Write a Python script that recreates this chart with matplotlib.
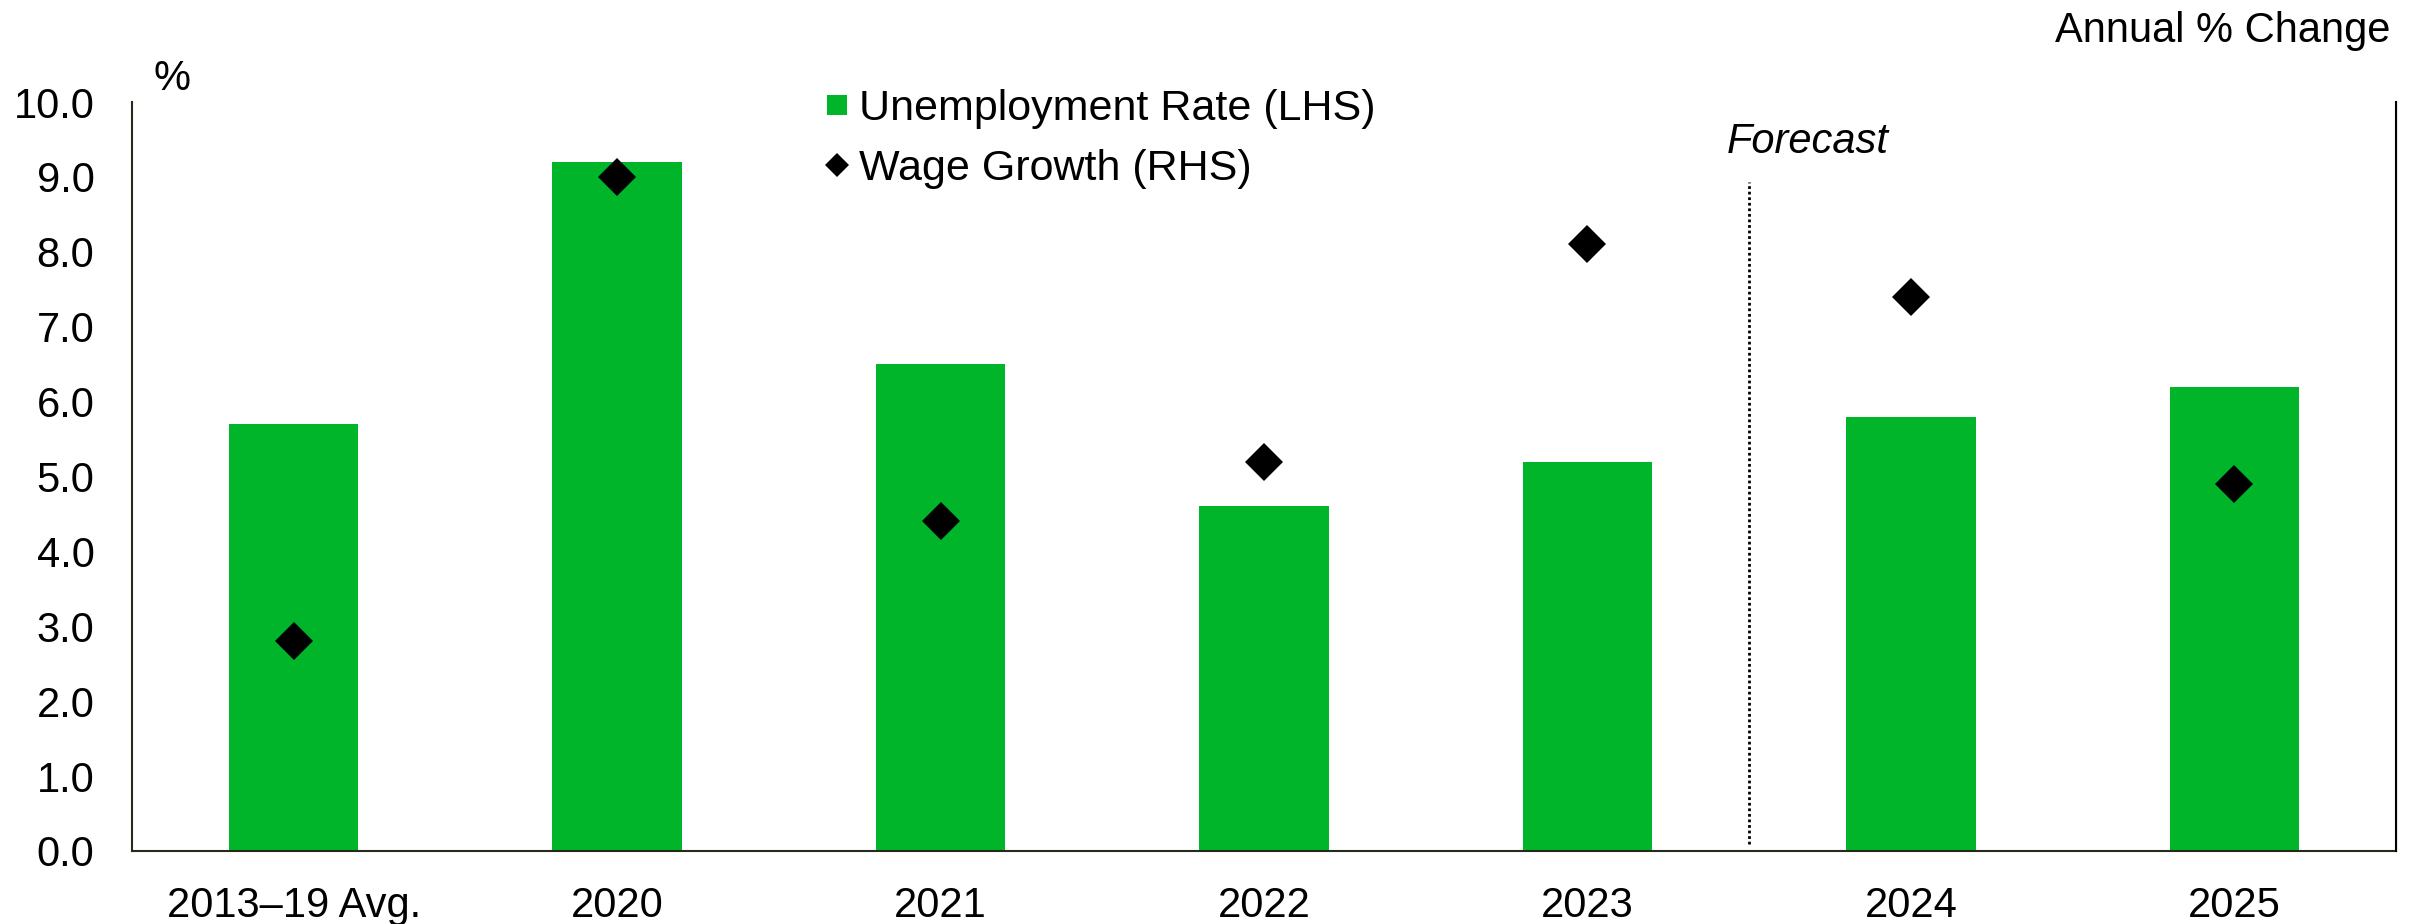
import matplotlib
matplotlib.use("Agg")
import matplotlib.pyplot as plt
from matplotlib.lines import Line2D

plt.rcParams['font.family'] = ['Liberation Sans', 'DejaVu Sans']

categories = ["2013–19 Avg.", "2020", "2021", "2022", "2023", "2024", "2025"]
unemployment = [5.7, 9.2, 6.5, 4.6, 5.2, 5.8, 6.2]
wage_growth = [2.8, 9.0, 4.4, 5.2, 8.1, 7.4, 4.9]
y_ticks = [0, 1, 2, 3, 4, 5, 6, 7, 8, 9, 10]

green = '#00B52A'
spine_col = '#252b1c'

fig = plt.figure(figsize=(24.2, 9.24), dpi=100)
ax = fig.add_axes([132 / 2420, 73 / 924, 2264 / 2420, 749 / 924])
ax2 = ax.twinx()

x = list(range(len(categories)))
ax.bar(x, unemployment, width=0.4, color=green, zorder=2)
ax2.plot(x, wage_growth, linestyle='none', marker='D', markersize=19,
         color='black', markeredgewidth=0, zorder=3)

ax.set_xlim(-0.5, len(categories) - 0.5)
ax.set_ylim(0, 10)
ax2.set_ylim(0, 10)
ax.set_yticks(y_ticks)
ax.set_yticklabels([f"{v:.1f}" for v in y_ticks])
ax.set_xticks(x)
ax.set_xticklabels(categories)
ax.tick_params(axis='y', length=0, pad=27, labelsize=30)
ax.tick_params(axis='x', length=0, pad=25, labelsize=30)
ax2.set_yticks([])
ax2.tick_params(length=0)

for a in (ax, ax2):
    a.spines['top'].set_visible(False)
ax.spines['left'].set_color(spine_col)
ax.spines['bottom'].set_color(spine_col)
ax.spines['left'].set_linewidth(1.5)
ax.spines['bottom'].set_linewidth(1.5)
ax2.spines['left'].set_visible(False)
ax2.spines['bottom'].set_visible(False)
ax2.spines['right'].set_color('black')
ax2.spines['right'].set_linewidth(1.5)

# forecast divider
ax.vlines(4.5, 0.1, 8.93, colors='black', linestyles=(0, (1, 1)), linewidth=2, zorder=1)
ax.text(4.43, 9.32, "Forecast", fontsize=30, style='italic', ha='left', va='baseline')

fig.text(172 / 2420, 1 - 90 / 924, "%", fontsize=30, ha='center', va='baseline')
fig.text(2390 / 2420, 1 - 42 / 924, "Annual % Change", fontsize=30, ha='right', va='baseline')

handles = [
    Line2D([], [], linestyle='none', marker='s', markersize=15, color=green, markeredgewidth=0),
    Line2D([], [], linestyle='none', marker='D', markersize=12, color='black', markeredgewidth=0),
]
labels = ["Unemployment Rate (LHS)", "Wage Growth (RHS)"]
fig.legend(handles, labels, loc='upper left', bbox_to_anchor=(820 / 2420, 1 - 89 / 924),
           frameon=False, fontsize=31, handlelength=0.78, handletextpad=0.12,
           labelspacing=0.47, borderpad=0, borderaxespad=0)

fig.savefig("out.png", dpi=100)
